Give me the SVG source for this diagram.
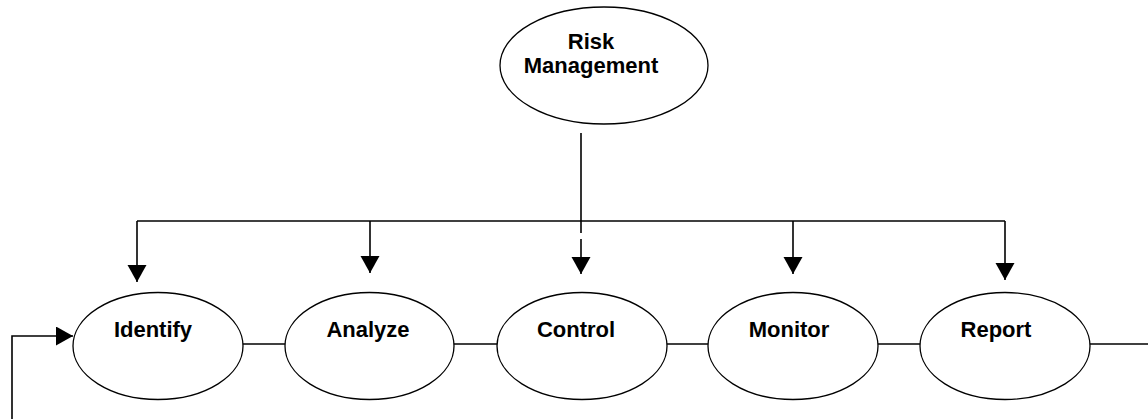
<svg xmlns="http://www.w3.org/2000/svg" width="1148" height="419" viewBox="0 0 1148 419">
  <style>
    .node ellipse { fill: #ffffff; stroke: #000000; stroke-width: 1.3; }
    .node text { font-family: "Liberation Sans", Arial, sans-serif; font-weight: bold; font-size: 22px; fill: #000000; text-anchor: middle; }
    .conn line, .conn polyline { fill: none; stroke: #000000; stroke-width: 1.6; }
  </style>
  <defs>
    <marker id="arrow" markerUnits="userSpaceOnUse" markerWidth="20" markerHeight="20" refX="17" refY="9.5" orient="auto">
      <path d="M0,0 L17,9.5 L0,19 Z" fill="#000000"/>
    </marker>
  </defs>

  <rect width="1148" height="419" fill="#ffffff"/>

  <!-- connectors -->
  <g id="connectors" class="conn">
    <!-- trunk from the top node down to the bus -->
    <line x1="581" y1="133" x2="581" y2="233"/>
    <!-- distribution bus -->
    <line x1="137" y1="221" x2="1005" y2="221"/>
    <!-- drops to each step -->
    <line x1="137" y1="221" x2="137" y2="282" marker-end="url(#arrow)"/>
    <line x1="370" y1="221" x2="370" y2="273" marker-end="url(#arrow)"/>
    <line x1="581" y1="239" x2="581" y2="274" marker-end="url(#arrow)"/>
    <line x1="793" y1="221" x2="793" y2="274" marker-end="url(#arrow)"/>
    <line x1="1005" y1="221" x2="1005" y2="280" marker-end="url(#arrow)"/>
    <!-- chain between steps -->
    <line x1="243" y1="344" x2="285" y2="344"/>
    <line x1="454" y1="344" x2="497" y2="344"/>
    <line x1="667" y1="344" x2="708" y2="344"/>
    <line x1="878" y1="344" x2="920" y2="344"/>
    <line x1="1090" y1="344" x2="1148" y2="344"/>
    <!-- feedback loop into the first step -->
    <polyline points="12,419 12,336 73,336" marker-end="url(#arrow)"/>
  </g>

  <g id="risk-management" class="node">
    <ellipse cx="604" cy="65.5" rx="104" ry="58.5"/>
    <text x="591" y="49">Risk</text>
    <text x="591" y="73">Management</text>
  </g>

  <g id="identify" class="node">
    <ellipse cx="158" cy="346" rx="85" ry="53.5"/>
    <text x="153" y="337">Identify</text>
  </g>

  <g id="analyze" class="node">
    <ellipse cx="369.5" cy="346" rx="84.5" ry="53.5"/>
    <text x="368" y="337">Analyze</text>
  </g>

  <g id="control" class="node">
    <ellipse cx="582" cy="346" rx="85" ry="53.5"/>
    <text x="576" y="337">Control</text>
  </g>

  <g id="monitor" class="node">
    <ellipse cx="793" cy="346" rx="85" ry="53.5"/>
    <text x="789" y="337">Monitor</text>
  </g>

  <g id="report" class="node">
    <ellipse cx="1005" cy="346" rx="85" ry="53.5"/>
    <text x="996" y="337">Report</text>
  </g>
</svg>
